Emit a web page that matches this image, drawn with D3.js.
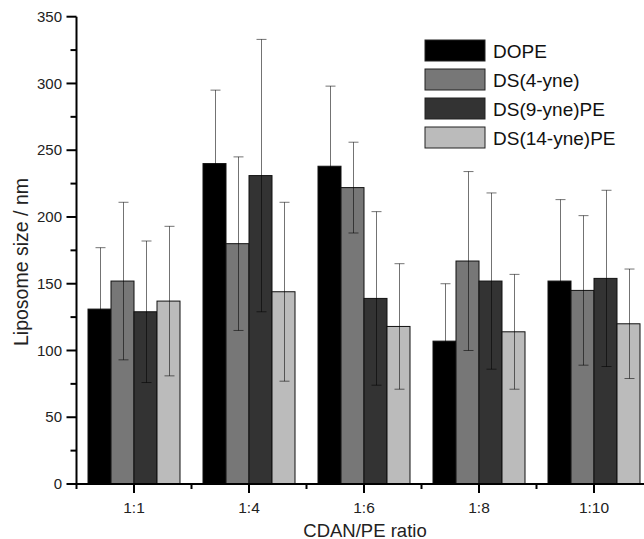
<!DOCTYPE html>
<html>
<head>
<meta charset="utf-8">
<script src="https://cdn.jsdelivr.net/npm/d3@7"></script>
<style>
  body { margin: 0; background: #fff; }
  svg { display: block; font-family: "Liberation Sans", Arial, sans-serif; }
</style>
</head>
<body>
<svg id="chart" width="644" height="539"></svg>
<script>
// Data
const ratios = ["1:1", "1:4", "1:6", "1:8", "1:10"];
const seriesNames = ["DOPE", "DS(4-yne)", "DS(9-yne)PE", "DS(14-yne)PE"];
const seriesColors = ["#000000", "#777777", "#333333", "#bbbbbb"];
const dopeSize = [131, 240, 238, 107, 152];
const ds4Size = [152, 180, 222, 167, 145];
const ds9Size = [129, 231, 139, 152, 154];
const ds14Size = [137, 144, 118, 114, 120];
const dopeErr = [46, 55, 60, 43, 61];
const ds4Err = [59, 65, 34, 67, 56];
const ds9Err = [53, 102, 65, 66, 66];
const ds14Err = [56, 67, 47, 43, 41];
const yTicks = [0, 50, 100, 150, 200, 250, 300, 350];

const sizes = [dopeSize, ds4Size, ds9Size, ds14Size];
const errs = [dopeErr, ds4Err, ds9Err, ds14Err];

const rows = [];
ratios.forEach((r, i) => {
    seriesNames.forEach((s, j) => {
        rows.push({ ratio: r, series: s, idx: j, value: sizes[j][i], err: errs[j][i] });
    });
});

const svg = d3.select("#chart");

const x0 = d3.scaleBand().domain(ratios).range([76.5, 651.5])
    .paddingInner(0.2).paddingOuter(0.1);
const x1 = d3.scaleBand().domain(seriesNames).range([0, x0.bandwidth()]);
const y = d3.scaleLinear().domain([0, 350]).range([484, 16.7]);

// bars
svg.append("g").selectAll("rect")
    .data(rows)
    .enter().append("rect")
    .attr("x", d => x0(d.ratio) + x1(d.series))
    .attr("y", d => y(d.value))
    .attr("width", x1.bandwidth())
    .attr("height", d => y(0) - y(d.value))
    .attr("fill", d => seriesColors[d.idx])
    .attr("stroke", "#111")
    .attr("stroke-width", 1);

// error bars (semi-transparent black: grey on white, hidden on black)
const eb = svg.append("g")
    .attr("stroke", "#000")
    .attr("stroke-opacity", 0.55)
    .attr("stroke-width", 1);
rows.forEach(d => {
    const cx = Math.round(x0(d.ratio) + x1(d.series) + x1.bandwidth() / 2) + 0.5;
    eb.append("line").attr("x1", cx).attr("x2", cx)
        .attr("y1", y(d.value + d.err)).attr("y2", y(d.value - d.err));
    [d.value + d.err, d.value - d.err].forEach(v => {
        eb.append("line").attr("x1", cx - 5).attr("x2", cx + 5)
            .attr("y1", y(v)).attr("y2", y(v));
    });
});

// y axis
const yAxis = svg.append("g").attr("transform", "translate(76.5,0)");
yAxis.append("line").attr("y1", y(350)).attr("y2", y(0))
    .attr("stroke", "#000").attr("stroke-width", 2);
d3.range(0, 351, 25).forEach(v => {
    const major = v % 50 === 0;
    yAxis.append("line").attr("x1", major ? -10 : -6).attr("x2", 0)
        .attr("y1", y(v)).attr("y2", y(v))
        .attr("stroke", "#000").attr("stroke-width", 2);
});
yAxis.selectAll("text.tick")
    .data(yTicks)
    .enter().append("text")
    .attr("class", "tick")
    .attr("x", -14.5)
    .attr("y", d => y(d))
    .attr("dy", "0.35em")
    .attr("text-anchor", "end")
    .attr("font-size", 15)
    .attr("fill", "#222")
    .text(d => d);

// x axis
const xAxis = svg.append("g").attr("transform", `translate(0,${y(0)})`);
xAxis.append("line").attr("x1", 75.5).attr("x2", 644)
    .attr("stroke", "#000").attr("stroke-width", 2);
ratios.forEach(r => {
    const cx = x0(r) + x0.bandwidth() / 2;
    xAxis.append("line").attr("x1", cx).attr("x2", cx).attr("y1", 0).attr("y2", 9)
        .attr("stroke", "#000").attr("stroke-width", 2);
    xAxis.append("text").attr("x", cx).attr("y", 28.7)
        .attr("text-anchor", "middle").attr("font-size", 15.5).attr("fill", "#222")
        .text(r);
});
d3.range(ratios.length + 1).forEach(i => {
    const bx = x0.range()[0] + i * x0.step();
    xAxis.append("line").attr("x1", bx).attr("x2", bx).attr("y1", 0).attr("y2", 5)
        .attr("stroke", "#000").attr("stroke-width", 2);
});

// axis titles
svg.append("text")
    .attr("transform", "translate(28,262) rotate(-90)")
    .attr("text-anchor", "middle")
    .attr("font-size", 19.5)
    .attr("fill", "#222")
    .text("Liposome size / nm");
svg.append("text")
    .attr("x", 365).attr("y", 536.5)
    .attr("text-anchor", "middle")
    .attr("font-size", 18.5)
    .attr("fill", "#222")
    .text("CDAN/PE ratio");

// legend
const legend = svg.append("g").attr("transform", "translate(425,40)");
seriesNames.forEach((s, j) => {
    const row = legend.append("g").attr("transform", `translate(0,${j * 29})`);
    row.append("rect").attr("width", 60).attr("height", 21)
        .attr("fill", seriesColors[j]).attr("stroke", "#222").attr("stroke-width", 1);
    row.append("text").attr("x", 68).attr("y", 18).attr("font-size", 19)
        .attr("fill", "#111").text(s);
});
</script>
</body>
</html>
